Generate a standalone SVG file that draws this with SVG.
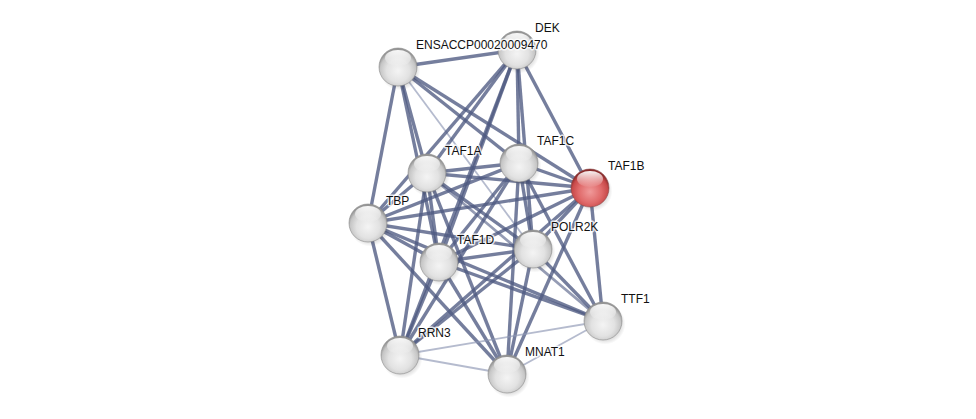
<svg xmlns="http://www.w3.org/2000/svg" width="976" height="419" viewBox="0 0 976 419">
<defs>
<radialGradient id="gw" cx="50%" cy="60%" r="55%">
<stop offset="0" stop-color="#f4f4f4"/>
<stop offset="0.55" stop-color="#e2e2e2"/>
<stop offset="0.85" stop-color="#c6c6c6"/>
<stop offset="1" stop-color="#969696"/>
</radialGradient>
<radialGradient id="gr" cx="50%" cy="60%" r="55%">
<stop offset="0" stop-color="#f09a9a"/>
<stop offset="0.55" stop-color="#e06a6a"/>
<stop offset="0.85" stop-color="#c84a4a"/>
<stop offset="1" stop-color="#8a2a2a"/>
</radialGradient>
<linearGradient id="hl" x1="0" y1="0" x2="0" y2="1">
<stop offset="0" stop-color="#fff" stop-opacity="0.95"/>
<stop offset="1" stop-color="#fff" stop-opacity="0.05"/>
</linearGradient>
<radialGradient id="sh" cx="50%" cy="50%" r="50%">
<stop offset="0.6" stop-color="#000" stop-opacity="0.22"/>
<stop offset="1" stop-color="#000" stop-opacity="0"/>
</radialGradient>
<g id="ball">
<circle cx="2" cy="3" r="20.5" fill="url(#sh)"/>
</g>
</defs>
<style>
.e{stroke:#4e5a82;stroke-width:3.4;stroke-opacity:0.78;fill:none}
.m{stroke:#4e5a82;stroke-width:2.8;stroke-opacity:0.6;fill:none}
.l{stroke:#8e96b4;stroke-width:1.8;stroke-opacity:0.65;fill:none}
.lbl{font-family:"Liberation Sans",Arial,sans-serif;font-size:12px;fill:#111;stroke:#fff;stroke-width:3;stroke-opacity:0.8;paint-order:stroke;stroke-linejoin:round}
.bw{fill:url(#gw);stroke:#8a8a8a;stroke-width:0.6}
.br{fill:url(#gr);stroke:#8a4a4a;stroke-width:0.6}
.h{fill:url(#hl)}
</style>
<rect width="976" height="419" fill="#fff"/>
<g id="edges">
<line class="e" x1="398" y1="67" x2="517" y2="50"/>
<line class="e" x1="398" y1="67" x2="368" y2="223"/>
<line class="e" x1="398" y1="67" x2="427" y2="173"/>
<line class="e" x1="398" y1="67" x2="439" y2="262"/>
<line class="e" x1="398" y1="67" x2="519" y2="163"/>
<line class="e" x1="398" y1="67" x2="590" y2="188"/>
<line class="l" x1="398" y1="67" x2="533" y2="249"/>
<line class="e" x1="517" y1="50" x2="427" y2="173"/>
<line class="e" x1="517" y1="50" x2="368" y2="223"/>
<line class="e" x1="517" y1="50" x2="439" y2="262"/>
<line class="e" x1="517" y1="50" x2="400" y2="355"/>
<line class="e" x1="517" y1="50" x2="519" y2="163"/>
<line class="e" x1="517" y1="50" x2="533" y2="249"/>
<line class="e" x1="517" y1="50" x2="590" y2="188"/>
<line class="e" x1="427" y1="173" x2="368" y2="223"/>
<line class="e" x1="427" y1="173" x2="519" y2="163"/>
<line class="e" x1="427" y1="173" x2="590" y2="188"/>
<line class="e" x1="427" y1="173" x2="439" y2="262"/>
<line class="e" x1="427" y1="173" x2="533" y2="249"/>
<line class="e" x1="427" y1="173" x2="400" y2="355"/>
<line class="e" x1="427" y1="173" x2="507" y2="374"/>
<line class="m" x1="427" y1="173" x2="603" y2="321"/>
<line class="e" x1="519" y1="163" x2="368" y2="223"/>
<line class="e" x1="519" y1="163" x2="590" y2="188"/>
<line class="e" x1="519" y1="163" x2="439" y2="262"/>
<line class="e" x1="519" y1="163" x2="533" y2="249"/>
<line class="e" x1="519" y1="163" x2="400" y2="355"/>
<line class="e" x1="519" y1="163" x2="507" y2="374"/>
<line class="e" x1="519" y1="163" x2="603" y2="321"/>
<line class="e" x1="590" y1="188" x2="368" y2="223"/>
<line class="e" x1="590" y1="188" x2="439" y2="262"/>
<line class="e" x1="590" y1="188" x2="533" y2="249"/>
<line class="e" x1="590" y1="188" x2="400" y2="355"/>
<line class="e" x1="590" y1="188" x2="507" y2="374"/>
<line class="e" x1="590" y1="188" x2="603" y2="321"/>
<line class="e" x1="368" y1="223" x2="439" y2="262"/>
<line class="e" x1="368" y1="223" x2="533" y2="249"/>
<line class="e" x1="368" y1="223" x2="400" y2="355"/>
<line class="e" x1="368" y1="223" x2="507" y2="374"/>
<line class="e" x1="368" y1="223" x2="603" y2="321"/>
<line class="e" x1="439" y1="262" x2="533" y2="249"/>
<line class="e" x1="439" y1="262" x2="400" y2="355"/>
<line class="e" x1="439" y1="262" x2="507" y2="374"/>
<line class="e" x1="439" y1="262" x2="603" y2="321"/>
<line class="e" x1="533" y1="249" x2="400" y2="355"/>
<line class="e" x1="533" y1="249" x2="507" y2="374"/>
<line class="e" x1="533" y1="249" x2="603" y2="321"/>
<line class="l" x1="400" y1="355" x2="507" y2="374"/>
<line class="l" x1="400" y1="355" x2="603" y2="321"/>
<line class="l" x1="507" y1="374" x2="603" y2="321"/>
</g>
<g id="node-DEK" transform="translate(517,50)">
<use href="#ball"/><circle class="bw" r="19"/><ellipse class="h" cx="0" cy="-9" rx="13" ry="8"/>
<text class="lbl" x="18" y="-18">DEK</text>
</g>
<g id="node-ENSACCP00020009470" transform="translate(398,67)">
<use href="#ball"/><circle class="bw" r="19"/><ellipse class="h" cx="0" cy="-9" rx="13" ry="8"/>
<text class="lbl" x="18" y="-18">ENSACCP00020009470</text>
</g>
<g id="node-TAF1C" transform="translate(519,163)">
<use href="#ball"/><circle class="bw" r="19"/><ellipse class="h" cx="0" cy="-9" rx="13" ry="8"/>
<text class="lbl" x="18" y="-18">TAF1C</text>
</g>
<g id="node-TAF1B" transform="translate(590,188)">
<use href="#ball"/><circle class="br" r="19"/><ellipse class="h" cx="0" cy="-9" rx="13" ry="8"/>
<text class="lbl" x="18" y="-18">TAF1B</text>
</g>
<g id="node-TAF1A" transform="translate(427,173)">
<use href="#ball"/><circle class="bw" r="19"/><ellipse class="h" cx="0" cy="-9" rx="13" ry="8"/>
<text class="lbl" x="18" y="-18">TAF1A</text>
</g>
<g id="node-TBP" transform="translate(368,223)">
<use href="#ball"/><circle class="bw" r="19"/><ellipse class="h" cx="0" cy="-9" rx="13" ry="8"/>
<text class="lbl" x="18" y="-18">TBP</text>
</g>
<g id="node-POLR2K" transform="translate(533,249)">
<use href="#ball"/><circle class="bw" r="19"/><ellipse class="h" cx="0" cy="-9" rx="13" ry="8"/>
<text class="lbl" x="18" y="-18">POLR2K</text>
</g>
<g id="node-TAF1D" transform="translate(439,262)">
<use href="#ball"/><circle class="bw" r="19"/><ellipse class="h" cx="0" cy="-9" rx="13" ry="8"/>
<text class="lbl" x="18" y="-18">TAF1D</text>
</g>
<g id="node-TTF1" transform="translate(603,321)">
<use href="#ball"/><circle class="bw" r="19"/><ellipse class="h" cx="0" cy="-9" rx="13" ry="8"/>
<text class="lbl" x="18" y="-18">TTF1</text>
</g>
<g id="node-RRN3" transform="translate(400,355)">
<use href="#ball"/><circle class="bw" r="19"/><ellipse class="h" cx="0" cy="-9" rx="13" ry="8"/>
<text class="lbl" x="18" y="-18">RRN3</text>
</g>
<g id="node-MNAT1" transform="translate(507,374)">
<use href="#ball"/><circle class="bw" r="19"/><ellipse class="h" cx="0" cy="-9" rx="13" ry="8"/>
<text class="lbl" x="18" y="-18">MNAT1</text>
</g>
</svg>
